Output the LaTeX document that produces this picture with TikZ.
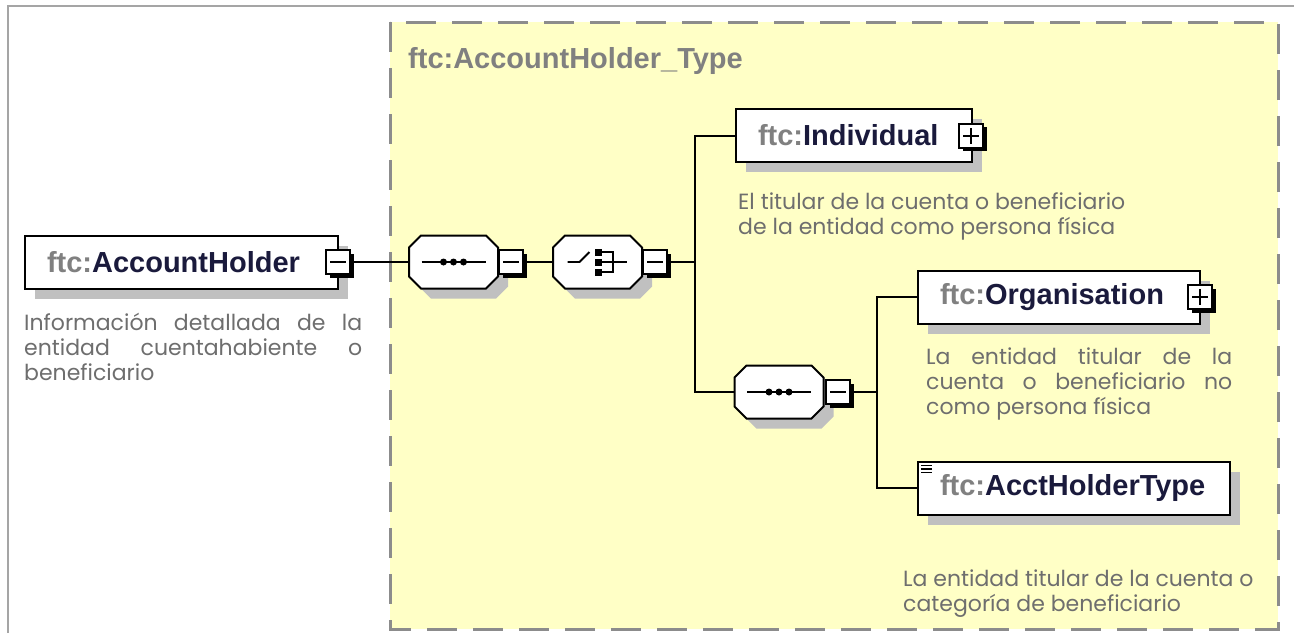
\documentclass[tikz,border=0pt]{standalone}
\usepackage{fontspec}
\setmainfont{Liberation Sans}
\newfontfamily\descfamily{Poppins}
\usepackage{xcolor}
\definecolor{boxyellow}{RGB}{255,255,198}
\definecolor{dashgray}{RGB}{140,140,140}
\definecolor{shadowgray}{RGB}{192,192,192}
\definecolor{ftcgray}{RGB}{128,128,128}
\definecolor{namecolor}{RGB}{26,26,60}
\definecolor{descgray}{RGB}{110,110,110}
\definecolor{framegray}{RGB}{165,165,165}
\usetikzlibrary{shadows}

\newcommand\nsprefix{{\color{ftcgray}ftc:}}
\newcommand\jline[2]{\makebox[#1][s]{#2}}

\tikzset{
  elem/.style={draw=black, line width=2pt, fill=white, minimum height=53pt,
    inner xsep=22pt, inner ysep=0pt, align=left, anchor=west,
    font=\fontsize{29}{34}\selectfont\bfseries, text=namecolor,
    drop shadow={shadow xshift=10pt, shadow yshift=-10pt, fill=shadowgray, opacity=1}},
  toggle/.style={draw=black, line width=2pt, fill=white, minimum size=24pt, inner sep=0pt,
    drop shadow={shadow xshift=3.5pt, shadow yshift=-3.5pt, fill=black, opacity=1}},
  minusbox/.style={toggle, path picture={
    \draw[line width=2pt] ([xshift=4pt]path picture bounding box.west) -- ([xshift=-4pt]path picture bounding box.east);}},
  plusbox/.style={toggle, path picture={
    \draw[line width=2pt] ([xshift=4pt]path picture bounding box.west) -- ([xshift=-4pt]path picture bounding box.east);
    \draw[line width=2pt] ([yshift=4pt]path picture bounding box.south) -- ([yshift=-4pt]path picture bounding box.north);}},
  comp/.style={minimum width=89pt, minimum height=53pt, inner sep=0pt},
  octo/.style={draw=black, line width=2pt, fill=white},
  icon/.style={line width=1.8pt},
  link/.style={line width=2pt},
  desc/.style={font=\descfamily\fontsize{22}{25}\selectfont, text=descgray, align=left,
    anchor=base west, inner sep=0pt},
}

\begin{document}
\begin{tikzpicture}[x=1pt,y=-1pt]
  \useasboundingbox (0,0) rectangle (1294,633);
  \fill[white] (0,0) rectangle (1294,633);
  \draw[framegray, line width=2pt] (8,633) -- (8,6) -- (1294,6);

  % complex type area
  \draw[fill=boxyellow, draw=dashgray, line width=3pt, dash pattern=on 30pt off 16pt]
    (390,22) rectangle (1278,629);
  \node[anchor=base west, inner sep=0pt, font=\fontsize{29}{34}\selectfont\bfseries, text=ftcgray]
    (typename) at (408,68) {ftc:AccountHolder\_Type};

  % elements
  \node[elem, text width=269pt] (holder) at (24,262) {\nsprefix AccountHolder};
  \node[elem, text width=192pt] (indiv) at (735,135.5) {\nsprefix Individual};
  \node[elem, text width=238pt] (org) at (917,297) {\nsprefix Organisation};
  \node[elem, text width=268pt] (accttype) at (917,488) {\nsprefix AcctHolderType};
  \foreach \dy in {5,8.5,12}
    \draw[line width=1.2pt] ([shift={(4,\dy)}]accttype.north west) -- ++(11,0);

  % compositors
  \node[comp] (seqa) at (453.5,262) {};
  \node[comp] (choice) at (597.5,262) {};
  \node[comp] (seqb) at (779,392) {};
  \foreach \c in {seqa,choice,seqb}{
    \begin{scope}[shift={(\c.center)}]
      \fill[shadowgray] (-22.5,-16.5) -- (42.5,-16.5) -- (54.5,-4.5) -- (54.5,24.5) -- (42.5,36.5)
        -- (-22.5,36.5) -- (-34.5,24.5) -- (-34.5,-4.5) -- cycle;
      \draw[octo] (-32.5,-26.5) -- (32.5,-26.5) -- (44.5,-14.5) -- (44.5,14.5) -- (32.5,26.5)
        -- (-32.5,26.5) -- (-44.5,14.5) -- (-44.5,-14.5) -- cycle;
    \end{scope}
  }
  \foreach \s in {seqa,seqb}{
    \draw[icon] ([xshift=-32pt]\s.center) -- ([xshift=32pt]\s.center);
    \foreach \dx in {-10,0,10}
      \fill ([xshift=\dx pt]\s.center) circle (3.5pt);
  }
  \begin{scope}[shift={(choice.center)}]
    \draw[icon] (-30,0) -- (-18,0) -- (-8,-10);
    \foreach \dy in {-10,0,10}
      \fill (-2.5,\dy-3.5) rectangle (4.5,\dy+3.5);
    \draw[icon] (4.5,-10) -- (15.5,-10) -- (15.5,10) -- (4.5,10) (4.5,0) -- (29.5,0);
  \end{scope}

  % expand/collapse boxes
  \node[minusbox] (holder-tog) at ([xshift=-1pt]holder.east) {};
  \node[minusbox] (seqa-tog) at (511,262) {};
  \node[minusbox] (choice-tog) at (655,262) {};
  \node[minusbox] (seqb-tog) at (838,392) {};
  \node[plusbox] (indiv-tog) at ([xshift=-2pt]indiv.east) {};
  \node[plusbox] (org-tog) at ([xshift=-1pt]org.east) {};

  % connectors
  \coordinate (forka) at (695,262);
  \coordinate (forkb) at (877,392);
  \draw[link] (holder-tog.east) -- (seqa.west);
  \draw[link] (seqa-tog.east) -- (choice.west);
  \draw[link] (choice-tog.east) -- (forka);
  \draw[link] (indiv.west) -| (forka) |- (seqb.west);
  \draw[link] (seqb-tog.east) -- (forkb);
  \draw[link] (org.west) -| (forkb) |- (accttype.west);

  % annotations (anchored at the baseline of the last line)
  \node[desc] (holder-doc) at (24,380) {\jline{338pt}{Información detallada de la}\\
    \jline{338pt}{entidad cuentahabiente o}\\ beneficiario};
  \node[desc] (indiv-doc) at (738,234) {El titular de la cuenta o beneficiario\\
    de la entidad como persona física};
  \node[desc] (org-doc) at (926,414) {\jline{306pt}{La entidad titular de la}\\
    \jline{306pt}{cuenta o beneficiario no}\\ como persona física};
  \node[desc] (accttype-doc) at (903,611) {La entidad titular de la cuenta o\\
    categoría de beneficiario};
\end{tikzpicture}
\end{document}
